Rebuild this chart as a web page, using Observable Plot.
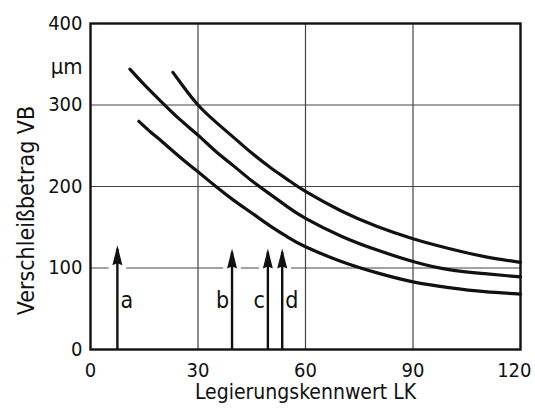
<!DOCTYPE html>
<html>
<head>
<meta charset="utf-8">
<script src="https://cdn.jsdelivr.net/npm/d3@7"></script>
<script src="https://cdn.jsdelivr.net/npm/@observablehq/plot@0.6"></script>
<style>
  html, body { margin: 0; padding: 0; background: #fff; }
  svg { display: block; }
</style>
</head>
<body>
<div id="chart"></div>
<script>
// ---- data ----
const xTicks = [0, 30, 60, 90, 120];
const yTicks = [0, 100, 200, 300, 400];
const xGrid = [30, 60, 90];
const yGrid = [100, 200, 300];

const upperX = [23, 26, 30, 35, 40, 45, 50, 55, 60, 70, 80, 90, 100, 110, 120];
const upperY = [340, 322, 300, 279, 260, 241, 224, 208.5, 194, 170, 151, 136, 124, 114, 107];

const middleX = [11, 15, 20, 25, 30, 35, 40, 45, 50, 55, 60, 70, 80, 90, 100, 110, 120];
const middleY = [344, 325, 303, 282, 263, 243, 225, 207, 191, 175, 161, 139, 122, 108, 98, 93, 89];

const lowerX = [13.5, 17, 20, 25, 30, 35, 40, 45, 50, 55, 60, 70, 80, 90, 100, 110, 120];
const lowerY = [280, 266, 255, 236, 218, 200, 183, 167.5, 152, 138, 126, 108, 94, 83, 76, 71, 68];

const arrowX = [7.5, 39.5, 49.5, 53.5];
const arrowTip = [128, 124, 124, 124];
const arrowLabel = ["a", "b", "c", "d"];
const arrowLabelSide = [1, -1, -1, 1];
const labelY = 60;

const unitLabel = "µm";
const unitY = 347;
const xTitle = "Legierungskennwert LK";
const yTitle = "Verschleißbetrag VB";

// ---- build tables ----
const curves = [
  ...upperX.map((x, i) => ({series: "upper", x, y: upperY[i]})),
  ...middleX.map((x, i) => ({series: "middle", x, y: middleY[i]})),
  ...lowerX.map((x, i) => ({series: "lower", x, y: lowerY[i]}))
];
const arrows = arrowX.map((x, i) => ({x, tip: arrowTip[i], label: arrowLabel[i], side: arrowLabelSide[i]}));

// custom arrowhead with its origin at the tip
const arrowHead = {
  draw(context) {
    context.moveTo(0, 0);
    context.lineTo(-5, 20);
    context.lineTo(0, 18);
    context.lineTo(5, 20);
    context.closePath();
  }
};

const ink = "#111";
const font = "'DejaVu Sans Condensed', 'DejaVu Sans', sans-serif";

const chart = Plot.plot({
  width: 535,
  height: 419,
  marginLeft: 90,
  marginRight: 15,
  marginTop: 23,
  marginBottom: 70,
  x: {domain: [0, 120], axis: null},
  y: {domain: [0, 400], axis: null},
  style: {fontFamily: font, color: ink, background: "#fff"},
  marks: [
    Plot.ruleX(xGrid, {stroke: "#444", strokeWidth: 1.2}),
    Plot.ruleY(yGrid, {stroke: "#444", strokeWidth: 1.2}),
    // gaps in the 100 gridline around the arrows
    Plot.dot(arrows, {x: "x", y: yGrid[0], symbol: "square", r: 10, fill: "#fff", stroke: null}),
    Plot.frame({stroke: ink, strokeWidth: 2.4}),
    Plot.line(curves, {x: "x", y: "y", z: "series", stroke: ink, strokeWidth: 3.2, curve: "natural", strokeLinecap: "round"}),
    Plot.ruleX(arrows, {x: "x", y1: 0, y2: d => d.tip - 5, stroke: ink, strokeWidth: 2.4}),
    Plot.dot(arrows, {x: "x", y: "tip", symbol: arrowHead, fill: ink, stroke: null, r: 5}),
    Plot.text(arrows.filter(d => d.side > 0), {x: "x", y: labelY, text: "label", textAnchor: "start", dx: 3, fontSize: 23, fill: ink}),
    Plot.text(arrows.filter(d => d.side < 0), {x: "x", y: labelY, text: "label", textAnchor: "end", dx: -3, fontSize: 23, fill: ink}),
    // tick labels
    Plot.text(xTicks.slice(0, -1), {x: d => d, y: 0, dy: 21, text: d => String(d), fontSize: 20, fill: ink}),
    Plot.text(xTicks.slice(-1), {x: d => d, y: 0, dy: 21, text: d => String(d), fontSize: 20, fill: ink, textAnchor: "end", dx: 11}),
    Plot.text(yTicks, {x: 0, y: d => d, dx: -8, text: d => String(d), textAnchor: "end", fontSize: 20, fill: ink}),
    Plot.text([unitLabel], {x: 0, y: unitY, dx: -8, text: d => d, textAnchor: "end", fontSize: 22, fill: ink}),
    // axis titles
    Plot.text([xTitle], {frameAnchor: "bottom", dy: 49, text: d => d, fontSize: 21, fill: ink}),
    Plot.text([yTitle], {frameAnchor: "left", textAnchor: "middle", dx: -64, dy: 24, rotate: -90, text: d => d, fontSize: 23, fill: ink})
  ]
});

document.getElementById("chart").appendChild(chart);
</script>
</body>
</html>
